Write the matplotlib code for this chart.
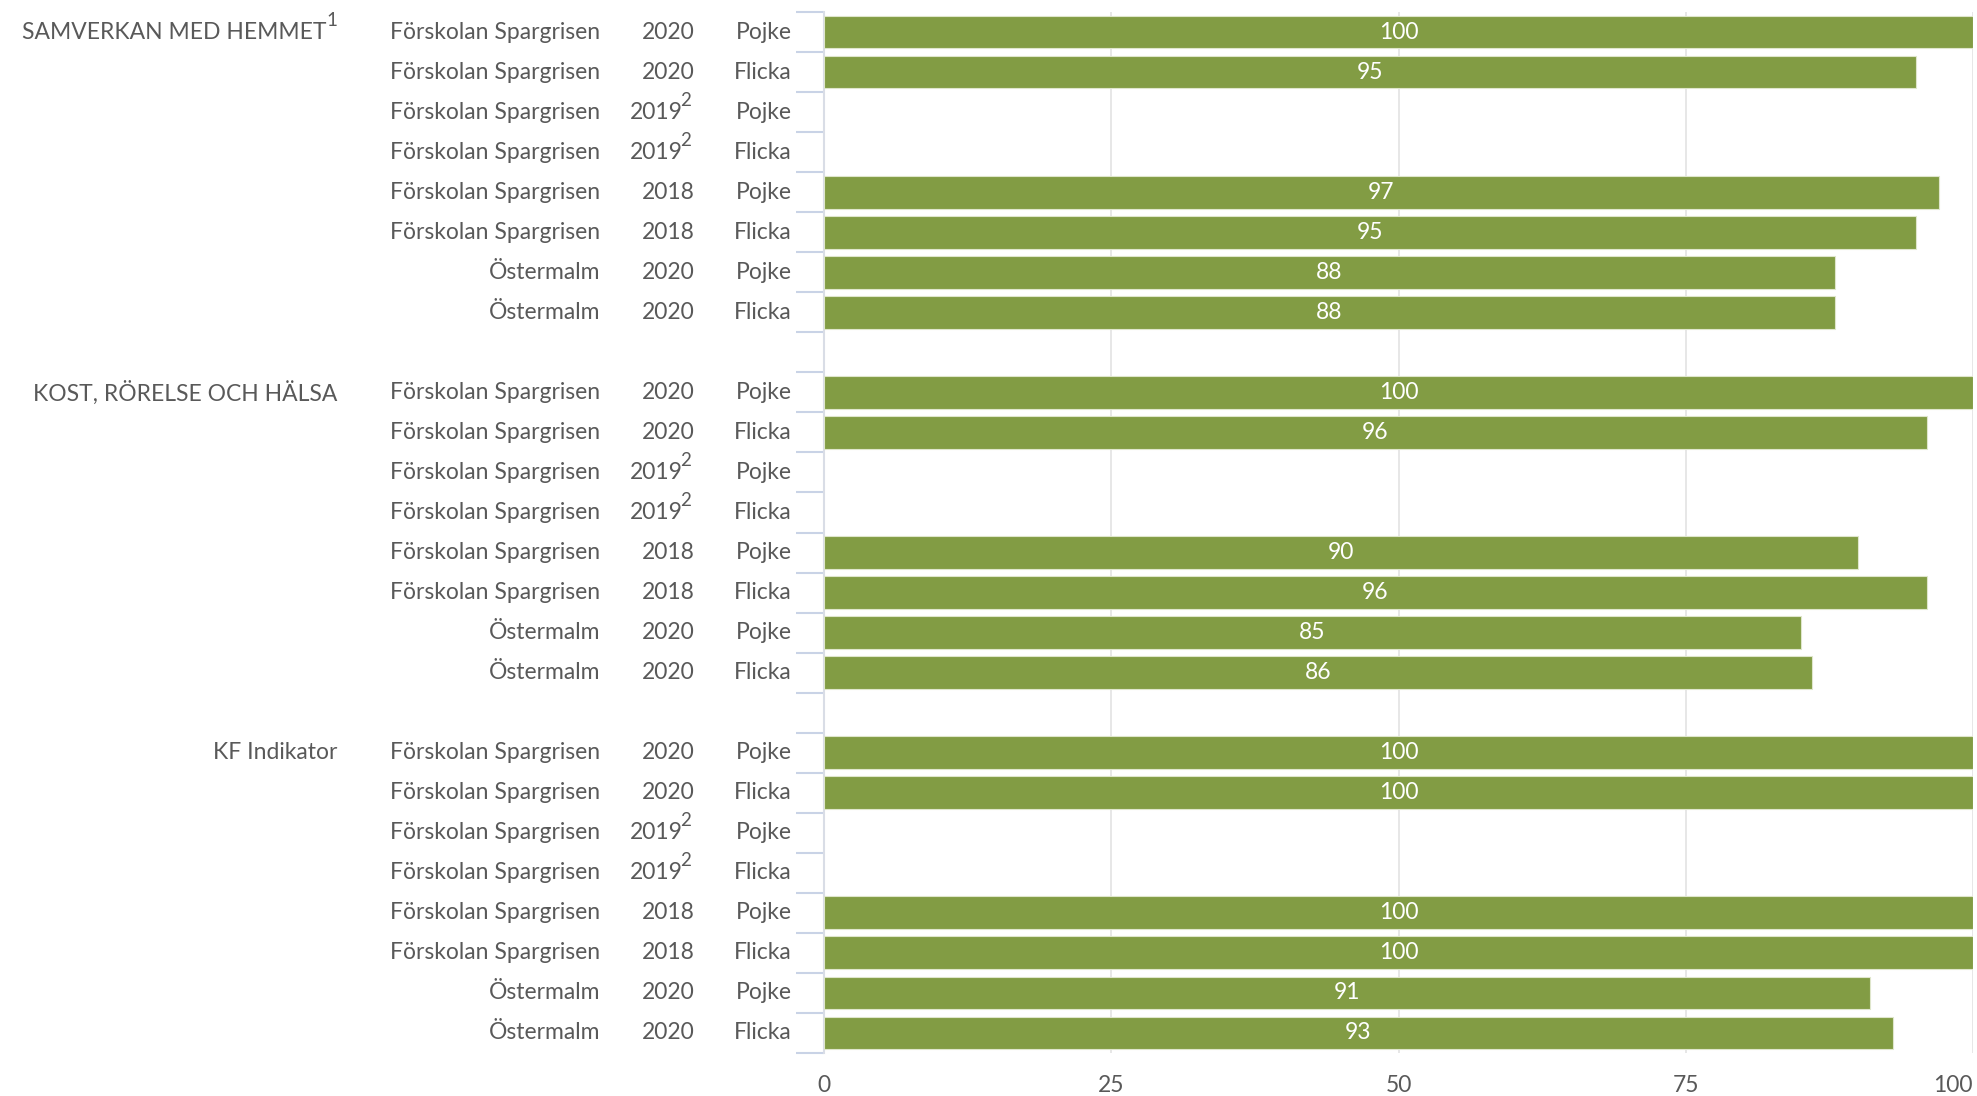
import numpy as np
import matplotlib.pyplot as plt
import matplotlib.transforms as mtransforms

plt.rcParams['font.family'] = ['Lato', 'DejaVu Sans']

groups = ["SAMVERKAN MED HEMMET", "KOST, RÖRELSE OCH HÄLSA", "KF Indikator"]
group_sup = ["1", "", ""]
units = ["Förskolan Spargrisen"] * 6 + ["Östermalm"] * 2
years = ["2020", "2020", "2019", "2019", "2018", "2018", "2020", "2020"]
year_sup = ["", "", "2", "2", "", "", "", ""]
genders = ["Pojke", "Flicka"] * 4
values = [
    [100, 95, None, None, 97, 95, 88, 88],
    [100, 96, None, None, 90, 96, 85, 86],
    [100, 100, None, None, 100, 100, 91, 93],
]

W, H = 1977, 1096
bar_color = '#829c44'
text_color = '#595959'
fs = 16.5

fig = plt.figure(figsize=(W / 100, H / 100), dpi=100)
ax = fig.add_axes([824 / W, 1 - 1053 / H, (1973 - 824) / W, (1053 - 12) / H])

n_rows = len(groups) * 8 + (len(groups) - 1)
ax.set_ylim(n_rows - 0.5, -0.5)
ax.set_xlim(0, 100)

tr = mtransforms.blended_transform_factory(fig.transFigure, ax.transData)

def fx(px):
    return px / W

for g, gname in enumerate(groups):
    base = g * 9
    for i in range(8):
        y = base + i
        v = values[g][i]
        if v is not None:
            ax.barh(y, v, height=0.82, color=bar_color, edgecolor='#dfe6cc', linewidth=0.8, zorder=3)
            ax.text(v / 2, y, str(v), color='white', fontsize=fs, ha='center', va='center', zorder=4)
        fig.text(fx(600), y, units[i], transform=tr, ha='right', va='center', fontsize=fs, color=text_color)
        if year_sup[i]:
            fig.text(fx(683), y, years[i], transform=tr, ha='right', va='center', fontsize=fs, color=text_color)
            fig.text(fx(680), y - 0.3, year_sup[i], transform=tr, ha='left', va='center', fontsize=fs - 3, color=text_color)
        else:
            fig.text(fx(695), y, years[i], transform=tr, ha='right', va='center', fontsize=fs, color=text_color)
        fig.text(fx(792), y, genders[i], transform=tr, ha='right', va='center', fontsize=fs, color=text_color)
    if group_sup[g]:
        fig.text(fx(326), base, gname, transform=tr, ha='right', va='center', fontsize=fs, color=text_color)
        fig.text(fx(326), base - 0.3, group_sup[g], transform=tr, ha='left', va='center', fontsize=fs - 3, color=text_color)
    else:
        fig.text(fx(337), base, gname, transform=tr, ha='right', va='center', fontsize=fs, color=text_color)

# category boundary ticks
ax.set_yticks(np.arange(-0.5, n_rows, 1.0))
ax.set_yticklabels([])
ax.tick_params(axis='y', length=20, width=1.5, color='#c9d3e6', direction='out')

ax.set_xticks([0, 25, 50, 75, 100])
ax.tick_params(axis='x', length=0, pad=16, labelsize=fs, labelcolor=text_color)
ax.get_xticklabels()[-1].set_horizontalalignment('right')
ax.grid(axis='x', color='#e3e3e3', linewidth=1.2, zorder=0)
ax.set_axisbelow(True)

for s in ['top', 'right', 'bottom']:
    ax.spines[s].set_visible(False)
ax.spines['left'].set_color('#d9dde6')
ax.spines['left'].set_linewidth(1.5)

fig.savefig('out.png', dpi=100)
